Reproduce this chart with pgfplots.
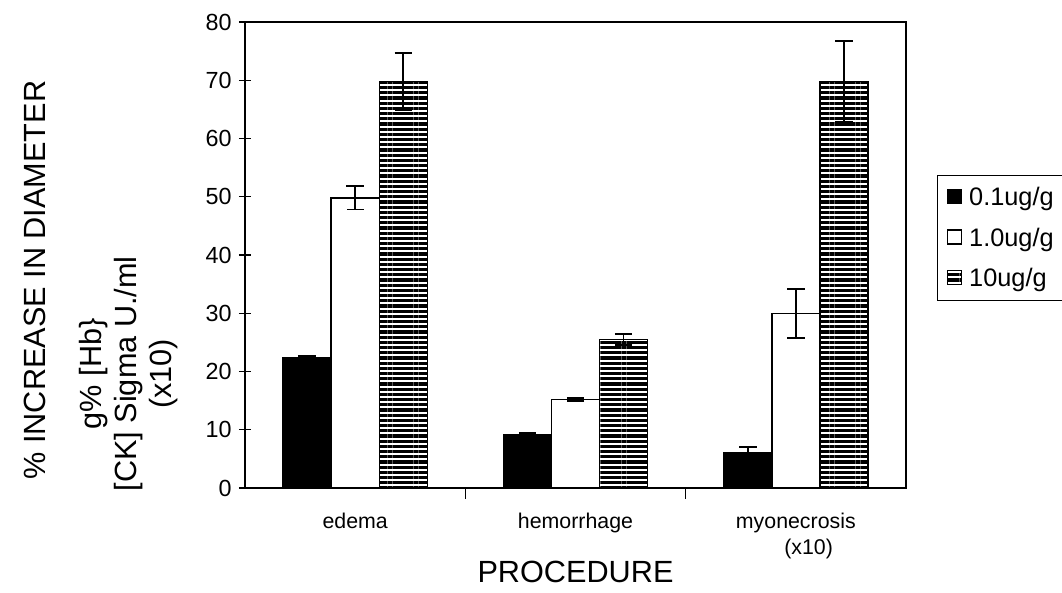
\documentclass[border=0pt]{standalone}
\usepackage{pgfplots}
\pgfplotsset{compat=1.18}
\usepackage{fontspec}
\setmainfont{Liberation Sans}
\usetikzlibrary{patterns.meta}
\begin{document}
\begin{tikzpicture}
\useasboundingbox (-183.75pt,-78pt) rectangle (612.75pt,366pt);
\begin{axis}[
  at={(0,0)}, anchor=south west,
  scale only axis,
  width=495.75pt, height=349.5pt,
  xmin=0, xmax=3, ymin=0, ymax=80,
  ytick={0,10,...,80},
  xtick={0.5,1.5,2.5},
  xticklabels={edema, hemorrhage, {myonecrosis\\\hspace*{1.2em}(x10)}},
  minor xtick={1,2},
  major x tick style={draw=none},
  tick pos=left,
  tick align=center,
  major tick length=9pt,
  minor tick length=8pt,
  every tick/.style={black, line width=0.8pt},
  axis line style={line width=1.2pt},
  /pgf/number format/assume math mode=true,
  yticklabel style={font=\fontsize{17.5}{20}\selectfont, xshift=-2pt},
  xticklabel style={font=\fontsize{16}{20}\selectfont, align=center, yshift=-6pt},
  ybar=0pt,
  bar width=36pt,
  legend style={at={(axis description cs:1.047,0.672)}, anchor=north west,
    draw=black, line width=0.8pt, font=\fontsize{19}{23}\selectfont,
    row sep=11pt, inner sep=7pt, cells={anchor=west}},
  legend image code/.code={\draw[#1, line width=1pt] (0pt,-4.5pt) rectangle (10.5pt,6pt);},
  error bars/y dir=both,
  error bars/y explicit,
  error bars/error mark options={rotate=90, mark size=6.5pt, line width=1.3pt, black},
  error bars/error bar style={line width=1.3pt, black},
  clip=false,
]
\addplot[fill=black, draw=black, line width=1pt]
  coordinates {(0.5,22.3) +- (0,0.4) (1.5,9.2) +- (0,0.3) (2.5,6.0) +- (0,1.0)};
\addplot[fill=white, draw=black, line width=1pt]
  coordinates {(0.5,49.8) +- (0,2.0) (1.5,15.2) +- (0,0.3) (2.5,30.0) +- (0,4.2)};
\addplot[fill=white, draw=black, line width=1pt,
  postaction={pattern={Lines[angle=0,distance=3.9pt,line width=2.4pt]}, pattern color=black}]
  coordinates {(0.5,69.8) +- (0,4.9) (1.5,25.5) +- (0,0.9) (2.5,69.8) +- (0,6.9)};
\legend{\,0.1ug/g, \,1.0ug/g, \,10ug/g}
\node[rotate=90, font=\fontsize{23}{26}\selectfont] at (axis description cs:-0.318,0.446) {\% INCREASE IN DIAMETER};
\node[rotate=90, align=center, font=\fontsize{23}{26.5}\selectfont] at (axis description cs:-0.176,0.245) {g\% {[}Hb\}\\{}{[}CK{]} Sigma U./ml\\{}(x10)};
\node[font=\fontsize{23}{26}\selectfont] at (axis description cs:0.50,-0.18) {PROCEDURE};
\end{axis}
\end{tikzpicture}
\end{document}
